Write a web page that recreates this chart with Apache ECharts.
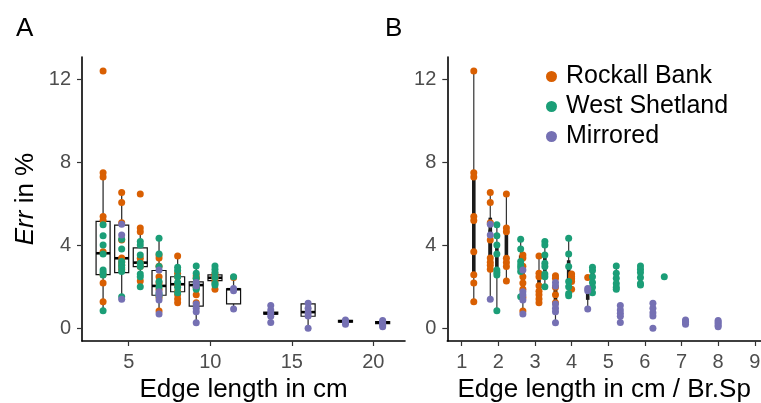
<!DOCTYPE html>
<html>
<head>
<meta charset="utf-8">
<script src="https://cdn.jsdelivr.net/npm/echarts@6/dist/echarts.min.js"></script>
<style>
html,body{margin:0;padding:0;background:#fff;}
#chart{width:761px;height:403px;}
</style>
</head>
<body>
<div id="chart"></div>
<script>
// ---------------- data ----------------
const seriesNames = ['Rockall Bank', 'West Shetland', 'Mirrored'];
const seriesColors = ['#D95F02', '#1B9E77', '#7570B3'];

// Rockall Bank
const rockallEdge  = [3.43, 4.57, 5.71, 6.86, 8.0, 9.14, 10.29, 11.43];
const rockallRatio = [1.33, 1.78, 2.22, 2.67, 3.11, 3.56, 4.0, 4.44];
const rockallErr = [
  [12.4, 7.5, 7.3, 5.4, 5.2, 3.7, 2.6, 2.2, 1.3],
  [6.55, 6.07, 5.1, 4.27, 3.4, 3.2, 3.05, 2.86],
  [6.48, 4.84, 4.66, 3.39, 3.18, 2.99, 2.3],
  [3.55, 3.4, 3.0, 2.5, 2.2, 1.9, 1.5, 0.85],
  [3.5, 2.67, 2.5, 2.07, 1.8, 1.63, 1.43, 1.25],
  [2.55, 2.43, 2.0, 1.63, 1.25],
  [2.63, 2.5, 2.4, 2.27, 1.9],
  [2.47]
];

// West Shetland
const shetlandEdge  = [3.43, 4.57, 5.71, 6.86, 8.0, 9.14, 10.29, 11.43];
const shetlandRatio = [1.96, 2.61, 3.27, 3.92, 4.57, 5.22, 5.88, 6.53];
const shetlandErr = [
  [5.0, 4.47, 4.03, 3.6, 2.83, 2.7, 2.59, 0.87],
  [4.31, 3.83, 3.23, 3.07, 2.93, 2.75, 1.54],
  [4.19, 4.03, 3.55, 3.15, 2.99, 2.63, 2.5, 2.02],
  [4.35, 3.6, 2.99, 2.27, 2.02, 1.7, 1.59],
  [2.96, 2.8, 2.5, 2.22, 1.99, 1.73],
  [3.02, 2.67, 2.43, 2.18, 1.99, 1.9],
  [3.02, 2.86, 2.7, 2.47, 2.18, 2.1],
  [2.5]
];

// Mirrored
const mirroredEdge  = [4.57, 6.86, 9.14, 11.43, 13.71, 16.0, 18.29, 20.57];
const mirroredRatio = [1.78, 2.67, 3.56, 4.44, 5.33, 6.22, 7.11, 8.0];
const mirroredErr = [
  [5.03, 4.51, 1.42],
  [2.83, 1.78, 1.62, 1.38, 0.71],
  [2.22, 2.06, 1.19, 0.98, 0.82, 0.29],
  [1.94, 1.83, 0.95],
  [1.12, 0.9, 0.75, 0.6, 0.3],
  [1.22, 0.98, 0.77, 0.61, 0.02],
  [0.42, 0.35, 0.3, 0.22],
  [0.4, 0.32, 0.25, 0.15, 0.1]
];

// Panel A boxplots: edge length, [lower whisker, Q1, median, Q3, upper whisker]
const boxEdge = [3.43, 4.57, 5.71, 6.86, 8.0, 9.14, 10.29, 11.43, 13.71, 16.0, 18.29, 20.57];
const boxStats = [
  [0.87, 2.6, 3.63, 5.16, 7.5],
  [1.38, 2.7, 3.39, 4.98, 6.49],
  [2.02, 2.99, 3.18, 3.89, 4.84],
  [0.71, 1.61, 2.06, 2.8, 4.4],
  [1.25, 1.78, 2.14, 2.5, 3.47],
  [0.29, 1.09, 2.1, 2.25, 3.07],
  [2.0, 2.31, 2.45, 2.59, 3.07],
  [1.0, 1.2, 1.9, 1.92, 2.5],
  [0.65, 0.7, 0.74, 0.8, 0.9],
  [0.0, 0.6, 0.8, 1.2, 1.22],
  [0.3, 0.32, 0.36, 0.4, 0.42],
  [0.22, 0.25, 0.3, 0.34, 0.36]
];

// tick labels
const xTicksA = [5, 10, 15, 20];
const xTicksB = [1, 2, 3, 4, 5, 6, 7, 8, 9];
const yTicks = [0, 4, 8, 12];

// ---------------- helpers ----------------
const FONT = '"Liberation Sans", Arial, sans-serif';
function quantile(sorted, p) {
  const h = (sorted.length - 1) * p;
  const lo = Math.floor(h), hi = Math.ceil(h);
  return sorted[lo] + (sorted[hi] - sorted[lo]) * (h - lo);
}
function tukey(vals) {
  const s = vals.slice().sort((a, b) => a - b);
  const q1 = quantile(s, 0.25), med = quantile(s, 0.5), q3 = quantile(s, 0.75);
  const iqr = q3 - q1;
  const low = s.find(v => v >= q1 - 1.5 * iqr);
  const high = s.slice().reverse().find(v => v <= q3 + 1.5 * iqr);
  return [low, q1, med, q3, high];
}

const origins = [
  {edge: rockallEdge, ratio: rockallRatio, err: rockallErr},
  {edge: shetlandEdge, ratio: shetlandRatio, err: shetlandErr},
  {edge: mirroredEdge, ratio: mirroredRatio, err: mirroredErr}
];

const boxDataA = boxEdge.map((x, i) => [x].concat(boxStats[i]));
const boxDataB = [];
origins.forEach(o => {
  o.err.forEach((vals, i) => {
    if (vals.length > 1) boxDataB.push([o.ratio[i]].concat(tukey(vals)));
  });
});

function renderBoxA(params, api) {
  const x = api.value(0);
  const half = api.size([0.86, 0])[0] / 2;
  const pLow = api.coord([x, api.value(1)]);
  const pQ1 = api.coord([x, api.value(2)]);
  const pMed = api.coord([x, api.value(3)]);
  const pQ3 = api.coord([x, api.value(4)]);
  const pHigh = api.coord([x, api.value(5)]);
  const cx = pQ1[0];
  return {
    type: 'group',
    children: [
      {type: 'line', shape: {x1: cx, y1: pLow[1], x2: cx, y2: pQ1[1]}, style: {stroke: '#333', lineWidth: 1.3}},
      {type: 'line', shape: {x1: cx, y1: pQ3[1], x2: cx, y2: pHigh[1]}, style: {stroke: '#333', lineWidth: 1.3}},
      {type: 'rect', shape: {x: cx - half, y: pQ3[1], width: half * 2, height: pQ1[1] - pQ3[1]},
        style: {fill: '#fff', stroke: '#111', lineWidth: 1.2}},
      {type: 'line', shape: {x1: cx - half, y1: pMed[1], x2: cx + half, y2: pMed[1]}, style: {stroke: '#000', lineWidth: 2.6}}
    ]
  };
}
function renderBoxB(params, api) {
  const x = api.value(0);
  const pLow = api.coord([x, api.value(1)]);
  const pQ1 = api.coord([x, api.value(2)]);
  const pQ3 = api.coord([x, api.value(4)]);
  const pHigh = api.coord([x, api.value(5)]);
  const cx = pQ1[0];
  const w = 3.6;
  return {
    type: 'group',
    children: [
      {type: 'line', shape: {x1: cx, y1: pLow[1], x2: cx, y2: pHigh[1]}, style: {stroke: '#333', lineWidth: 1.2}},
      {type: 'rect', shape: {x: cx - w / 2, y: pQ3[1], width: w, height: Math.max(pQ1[1] - pQ3[1], 1)},
        style: {fill: '#1a1a1a', stroke: null}}
    ]
  };
}

// ---------------- axes ----------------
const tickLabel = {color: '#4D4D4D', fontSize: 20, fontFamily: FONT};
function xAxis(gridIndex, min, max, ticks, name) {
  return {
    type: 'value', gridIndex, min, max,
    name, nameLocation: 'middle', nameGap: 35,
    nameTextStyle: {fontSize: 26, color: '#000', fontFamily: FONT},
    axisLine: {show: true, onZero: false, lineStyle: {color: '#000', width: 1.6}},
    axisTick: {show: true, length: 5, customValues: ticks, lineStyle: {color: '#333', width: 1.2}},
    axisLabel: Object.assign({customValues: ticks, margin: 11, formatter: v => String(v)}, tickLabel),
    splitLine: {show: false}
  };
}
function yAxis(gridIndex, name) {
  return {
    type: 'value', gridIndex, min: -0.59, max: 13.07,
    name, nameLocation: 'middle', nameGap: 43,
    nameTextStyle: {fontSize: 26, color: '#000', fontFamily: FONT,
      rich: {i: {fontStyle: 'italic', fontSize: 26, color: '#000', fontFamily: FONT}}},
    axisLine: {show: true, onZero: false, lineStyle: {color: '#000', width: 1.6}},
    axisTick: {show: true, length: 5, customValues: yTicks, lineStyle: {color: '#333', width: 1.2}},
    axisLabel: Object.assign({customValues: yTicks, margin: 11, formatter: v => String(v)}, tickLabel),
    splitLine: {show: false}
  };
}

// ---------------- series ----------------
const series = [
  {type: 'custom', name: 'boxA', xAxisIndex: 0, yAxisIndex: 0, renderItem: renderBoxA,
    data: boxDataA, encode: {x: 0, y: [1, 2, 3, 4, 5]}, z: 1, silent: true},
  {type: 'custom', name: 'boxB', xAxisIndex: 1, yAxisIndex: 1, renderItem: renderBoxB,
    data: boxDataB, encode: {x: 0, y: [1, 2, 3, 4, 5]}, z: 1, silent: true}
];
origins.forEach((o, k) => {
  const ptsA = [], ptsB = [];
  o.err.forEach((vals, i) => vals.forEach(v => {
    ptsA.push([o.edge[i], v]);
    ptsB.push([o.ratio[i], v]);
  }));
  series.push({type: 'scatter', name: seriesNames[k], xAxisIndex: 0, yAxisIndex: 0,
    data: ptsA, symbolSize: 7, itemStyle: {color: seriesColors[k], opacity: 1}, z: 2 + k});
  series.push({type: 'scatter', name: seriesNames[k], xAxisIndex: 1, yAxisIndex: 1,
    data: ptsB, symbolSize: 7, itemStyle: {color: seriesColors[k], opacity: 1}, z: 2 + k});
});

const chart = echarts.init(document.getElementById('chart'), null, {renderer: 'canvas'});
chart.setOption({
  animation: false,
  backgroundColor: '#fff',
  textStyle: {fontFamily: FONT},
  title: [
    {text: 'A', left: 16, top: 16, padding: 0, textStyle: {fontSize: 26, fontWeight: 'normal', color: '#000', fontFamily: FONT}},
    {text: 'B', left: 385, top: 16, padding: 0, textStyle: {fontSize: 26, fontWeight: 'normal', color: '#000', fontFamily: FONT}}
  ],
  legend: {
    data: seriesNames, orient: 'vertical', left: 546, top: 64, padding: 0,
    itemWidth: 11, itemHeight: 11, itemGap: 5, icon: 'circle', selectedMode: false,
    textStyle: {fontSize: 25, color: '#000', fontFamily: FONT, padding: [0, 0, 0, 4]}
  },
  grid: [
    {left: 82, top: 57, width: 323, height: 284, containLabel: false, outerBoundsMode: 'none'},
    {left: 447.3, top: 57, width: 313.7, height: 284, containLabel: false, outerBoundsMode: 'none'}
  ],
  xAxis: [
    xAxis(0, 2.137, 21.94, xTicksA, 'Edge length in cm'),
    xAxis(1, 0.607, 9.17, xTicksB, 'Edge length in cm / Br.Sp')
  ],
  yAxis: [
    yAxis(0, '{i|Err} in %'),
    Object.assign(yAxis(1, ''), {name: ''})
  ],
  series
});
</script>
</body>
</html>
